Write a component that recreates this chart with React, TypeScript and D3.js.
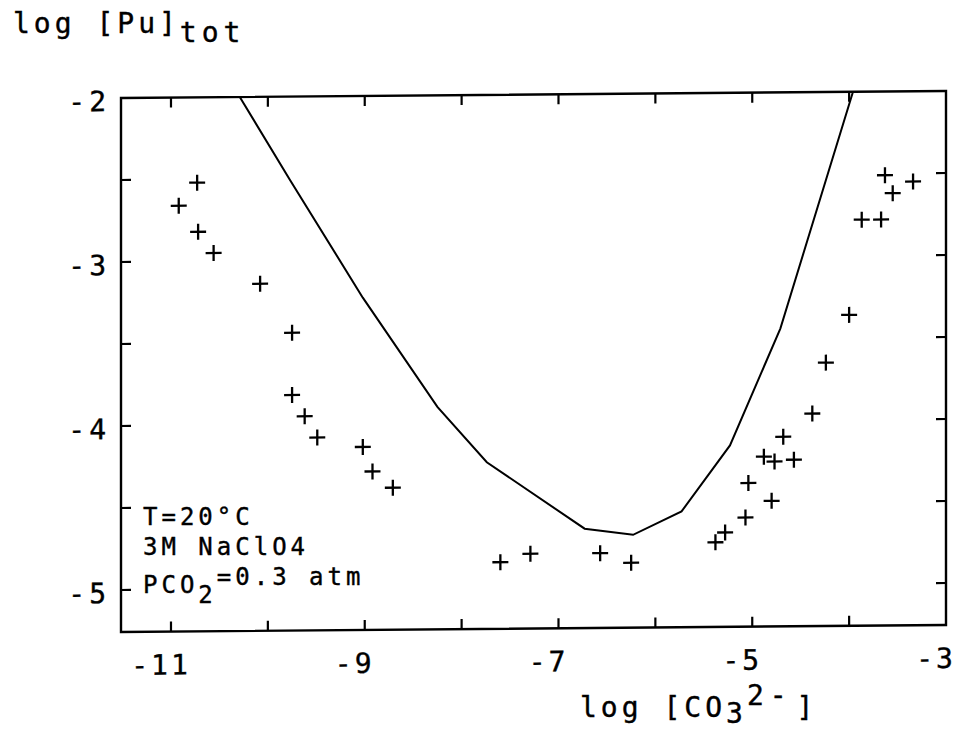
import React from "react";
import * as d3 from "d3";

const pointX = [
  -10.73, -10.92, -10.72, -10.56, -10.08, -9.75, -9.75, -9.62, -9.49, -9.02, -8.92, -8.71,
  -7.6, -7.29, -6.57, -6.25, -5.38, -5.28,
  -3.63, -3.55, -3.34, -3.87, -3.67, -4.0, -4.24, -4.38, -4.68, -4.88, -4.77, -4.57, -5.04, -4.8, -5.07,
];
const pointY = [
  -2.52, -2.66, -2.82, -2.95, -3.14, -3.44, -3.82, -3.95, -4.08, -4.14, -4.29, -4.39,
  -4.85, -4.8, -4.8, -4.86, -4.74, -4.68,
  -2.51, -2.62, -2.55, -2.78, -2.78, -3.36, -3.65, -3.96, -4.1, -4.22, -4.25, -4.24, -4.38, -4.49, -4.59,
];
const curveX = [-10.29, -9.77, -9.02, -8.25, -7.74, -6.73, -6.23, -5.73, -5.23, -4.71, -3.96];
const curveY = [-2.0, -2.51, -3.23, -3.9, -4.24, -4.65, -4.69, -4.55, -4.15, -3.44, -2.0];

const xTickValues = [-11, -10, -9, -8, -7, -6, -5, -4];
const xLabelValues = [-11, -9, -7, -5, -3];
const xLabelTexts = ["-11", "-9", "-7", "-5", "-3"];
const yTickValues = [-2.5, -3, -3.5, -4, -4.5, -5];
const yLabelValues = [-2, -3, -4, -5];
const yLabelTexts = ["-2", "-3", "-4", "-5"];

const W = 958;
const H = 731;
const L = 121, R = 946, T = 98, B = 632;
const FONT = "'DejaVu Sans Mono', monospace";

export default function App() {
  const x = d3.scaleLinear().domain([-11.516, -3]).range([L, R]);
  const y = d3.scaleLinear().domain([-5.256, -2]).range([B, T]);
  const line = d3
    .line<number>()
    .x((_, i) => x(curveX[i]))
    .y((_, i) => y(curveY[i]));
  const tick = 10;
  const ps = 8;
  const txtStroke = { stroke: "#000", strokeWidth: 0.4 };
  return (
    <svg
      width={W}
      height={H}
      style={{ position: "absolute", left: 0, top: 0, background: "#fff" }}
      fontFamily={FONT}
    >
      <rect x={0} y={0} width={W} height={H} fill="#fff" />
      <g transform={`translate(${L},0) skewY(-0.486) translate(${-L},0)`}>
        <rect x={L} y={T} width={R - L} height={B - T} fill="none" stroke="#000" strokeWidth={2.4} />
        {xTickValues.map((v) => (
          <g key={"xt" + v}>
            <line x1={x(v)} x2={x(v)} y1={B} y2={B - tick} stroke="#000" strokeWidth={2.2} />
            <line x1={x(v)} x2={x(v)} y1={T} y2={T + tick} stroke="#000" strokeWidth={2.2} />
          </g>
        ))}
        {yTickValues.map((v) => (
          <g key={"yt" + v}>
            <line x1={L} x2={L + tick} y1={y(v)} y2={y(v)} stroke="#000" strokeWidth={2.2} />
            <line x1={R} x2={R - tick} y1={y(v)} y2={y(v)} stroke="#000" strokeWidth={2.2} />
          </g>
        ))}
        {xLabelValues.map((v, i) => (
          <text
            key={"xl" + v}
            x={x(v) - 10}
            y={675}
            textAnchor="middle"
            fontSize={28}
            letterSpacing={3}
            fill="#000"
            {...txtStroke}
          >
            {xLabelTexts[i]}
          </text>
        ))}
        {yLabelValues.map((v, i) => (
          <text
            key={"yl" + v}
            x={110}
            y={y(v) + 13}
            textAnchor="end"
            fontSize={28}
            letterSpacing={4}
            fill="#000"
            {...txtStroke}
          >
            {yLabelTexts[i]}
          </text>
        ))}
        <path d={line(curveX) || ""} fill="none" stroke="#000" strokeWidth={2} />
        {pointX.map((px, i) => (
          <g key={"p" + i} stroke="#000" strokeWidth={2.3}>
            <line x1={x(px) - ps} x2={x(px) + ps} y1={y(pointY[i])} y2={y(pointY[i])} />
            <line x1={x(px)} x2={x(px)} y1={y(pointY[i]) - ps} y2={y(pointY[i]) + ps} />
          </g>
        ))}
      </g>
      <text x={13} y={33} fontSize={28} letterSpacing={4} fill="#000" {...txtStroke}>
        log [Pu]
        <tspan dy={9} letterSpacing={5}>tot</tspan>
      </text>
      <text x={580} y={717} fontSize={28} letterSpacing={4} fill="#000" {...txtStroke}>
        log [CO
        <tspan dy={6}>3</tspan>
        <tspan dy={-18} letterSpacing={6}>2-</tspan>
        <tspan dy={12} dx={4}>]</tspan>
      </text>
      <g fontSize={24} letterSpacing={4} fill="#000" {...txtStroke}>
        <text x={143} y={525}>T=20°C</text>
        <text x={143} y={555}>3M NaClO4</text>
        <text x={143} y={593}>
          PCO
          <tspan dy={10}>2</tspan>
          <tspan dy={-18}>=0.3 atm</tspan>
        </text>
      </g>
    </svg>
  );
}
